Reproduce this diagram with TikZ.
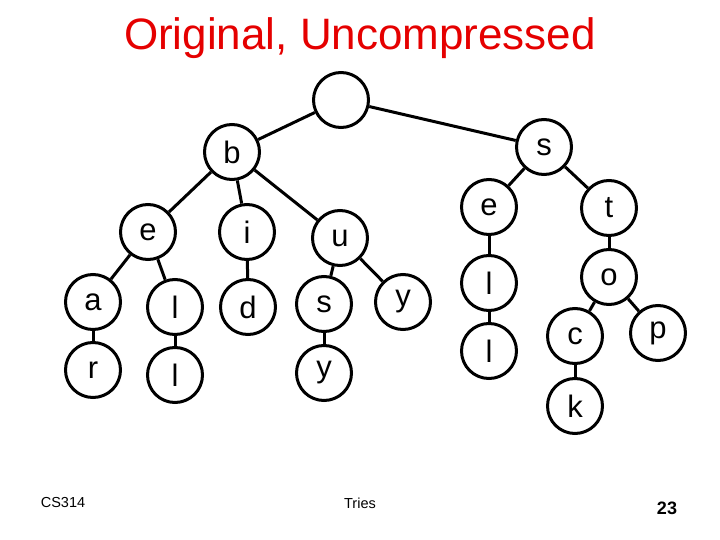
\documentclass[tikz,border=0pt]{standalone}
\usepackage{fontspec}
\setmainfont{Liberation Sans}
\usetikzlibrary{positioning}
\tikzset{
  letter/.style={circle, draw=black, fill=white, line width=3pt, minimum size=55pt, inner sep=0pt, font=\fontsize{31}{31}\selectfont},
  edge/.style={line width=3pt},
  footer/.style={font=\fontsize{14.5}{14.5}\selectfont}
}

\begin{document}
\begin{tikzpicture}[x=1pt, y=-1pt]
  \useasboundingbox (0,0) rectangle (720,540);
  \node[text=red!90!black, font=\fontsize{44}{44}\selectfont, anchor=base] (title) at (360,50) {Original, Uncompressed};
  \node[letter] (root) at (341,100) {};
  \node[letter] (b) at (232,152) {b};
  \node[letter] (s) at (544,147) {s};
  \node[letter] (be) at (148,232) {e};
  \node[letter] (bi) at (247,232) {i};
  \node[letter] (bu) at (340,238) {u};
  \node[letter] (bea) at (93,302) {a};
  \node[letter] (bear) at (93,370) {r};
  \node[letter] (bel) at (175,307) {l};
  \node[letter] (bell) at (175,375) {l};
  \node[letter] (bid) at (248,307) {d};
  \node[letter] (bus) at (324,304) {s};
  \node[letter] (busy) at (324,373) {y};
  \node[letter] (buy) at (403,302) {y};
  \node[letter] (se) at (489,207) {e};
  \node[letter] (sel) at (489,283) {l};
  \node[letter] (sell) at (489,351) {l};
  \node[letter] (st) at (609,208) {t};
  \node[letter] (sto) at (609,277) {o};
  \node[letter] (stoc) at (575,336) {c};
  \node[letter] (stock) at (575,406) {k};
  \node[letter] (stop) at (658,333) {p};
  \draw[edge] (root)--(b); \draw[edge] (root)--(s);
  \draw[edge] (b)--(be); \draw[edge] (b)--(bi); \draw[edge] (b)--(bu);
  \draw[edge] (be)--(bea); \draw[edge] (bea)--(bear);
  \draw[edge] (be)--(bel); \draw[edge] (bel)--(bell);
  \draw[edge] (bi)--(bid);
  \draw[edge] (bu)--(bus); \draw[edge] (bus)--(busy);
  \draw[edge] (bu)--(buy);
  \draw[edge] (s)--(se); \draw[edge] (se)--(sel); \draw[edge] (sel)--(sell);
  \draw[edge] (s)--(st); \draw[edge] (st)--(sto);
  \draw[edge] (sto)--(stoc); \draw[edge] (stoc)--(stock);
  \draw[edge] (sto)--(stop);
  \node[footer] (course) at (63,503) {CS314};
  \node[footer] (topic) at (360,503) {Tries};
  \node[font=\fontsize{18}{18}\selectfont\bfseries] (page) at (667,508) {23};
\end{tikzpicture}
\end{document}
